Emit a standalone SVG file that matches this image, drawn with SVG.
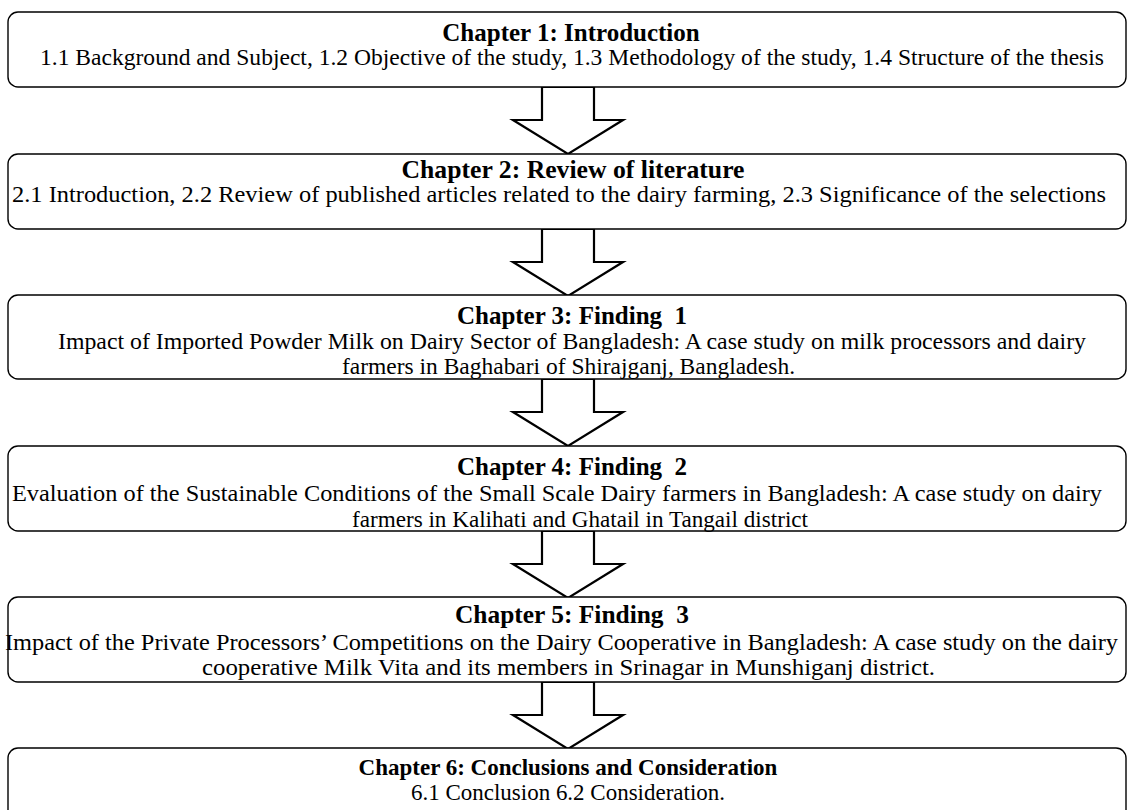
<svg xmlns="http://www.w3.org/2000/svg" width="1127" height="810" viewBox="0 0 1127 810">
<defs>
<style>
.box{fill:#fff;stroke:#000;stroke-width:1.4}
.arr{fill:#fff;stroke:#000;stroke-width:2.2;stroke-linejoin:miter}
text{font-family:"Liberation Serif","Times New Roman",serif;font-size:23.5px;fill:#000}
.t{font-weight:bold;text-anchor:middle;font-size:25px}
.c{text-anchor:middle}
</style>
<path id="ar" class="arr" d="M-26,0 L26,0 L26,33 L55,33 L0,67 L-55,33 L-26,33 Z"/>
</defs>
<rect width="1127" height="810" fill="#fff"/>
<g id="connectors">
<use href="#ar" x="568" y="87"/>
<use href="#ar" x="568" y="229"/>
<use href="#ar" x="568" y="379"/>
<use href="#ar" x="568" y="531"/>
<use href="#ar" x="568" y="682"/>
</g>
<g id="ch1">
<rect class="box" x="8" y="12" width="1118" height="75" rx="10"/>
<text class="t" x="571" y="41">Chapter 1: Introduction</text>
<text x="40" y="65" textLength="1064" lengthAdjust="spacingAndGlyphs">1.1 Background and Subject, 1.2 Objective of the study, 1.3 Methodology of the study, 1.4 Structure of the thesis</text>
</g>
<g id="ch2">
<rect class="box" x="8" y="154" width="1118" height="75" rx="10"/>
<text class="t" x="573" y="178" textLength="343" lengthAdjust="spacingAndGlyphs">Chapter 2: Review of literature</text>
<text x="12" y="202" textLength="1094" lengthAdjust="spacingAndGlyphs">2.1 Introduction, 2.2 Review of published articles related to the dairy farming, 2.3 Significance of the selections</text>
</g>
<g id="ch3">
<rect class="box" x="8" y="295" width="1118" height="84" rx="10"/>
<text class="t" x="572" y="324" xml:space="preserve">Chapter 3: Finding  1</text>
<text x="58" y="349" textLength="1028" lengthAdjust="spacingAndGlyphs">Impact of Imported Powder Milk on Dairy Sector of Bangladesh: A case study on milk processors and dairy</text>
<text x="342" y="374" textLength="453" lengthAdjust="spacingAndGlyphs">farmers in Baghabari of Shirajganj, Bangladesh.</text>
</g>
<g id="ch4">
<rect class="box" x="8" y="446" width="1118" height="85" rx="10"/>
<text class="t" x="572" y="475" xml:space="preserve">Chapter 4: Finding  2</text>
<text x="12" y="501" textLength="1090" lengthAdjust="spacingAndGlyphs">Evaluation of the Sustainable Conditions of the Small Scale Dairy farmers in Bangladesh: A case study on dairy</text>
<text x="352" y="527" textLength="456" lengthAdjust="spacingAndGlyphs">farmers in Kalihati and Ghatail in Tangail district</text>
</g>
<g id="ch5">
<rect class="box" x="8" y="597" width="1118" height="85" rx="10"/>
<text class="t" x="572" y="623" xml:space="preserve" textLength="234" lengthAdjust="spacingAndGlyphs">Chapter 5: Finding  3</text>
<text x="5" y="650" textLength="1113" lengthAdjust="spacingAndGlyphs">Impact of the Private Processors’ Competitions on the Dairy Cooperative in Bangladesh: A case study on the dairy</text>
<text x="202" y="675" textLength="733" lengthAdjust="spacingAndGlyphs">cooperative Milk Vita and its members in Srinagar in Munshiganj district.</text>
</g>
<g id="ch6">
<rect class="box" x="8" y="748" width="1118" height="80" rx="10"/>
<text class="t" x="568" y="775" style="font-size:23px">Chapter 6: Conclusions and Consideration</text>
<text x="411" y="800" textLength="314" lengthAdjust="spacingAndGlyphs">6.1 Conclusion 6.2 Consideration.</text>
</g>
</svg>
